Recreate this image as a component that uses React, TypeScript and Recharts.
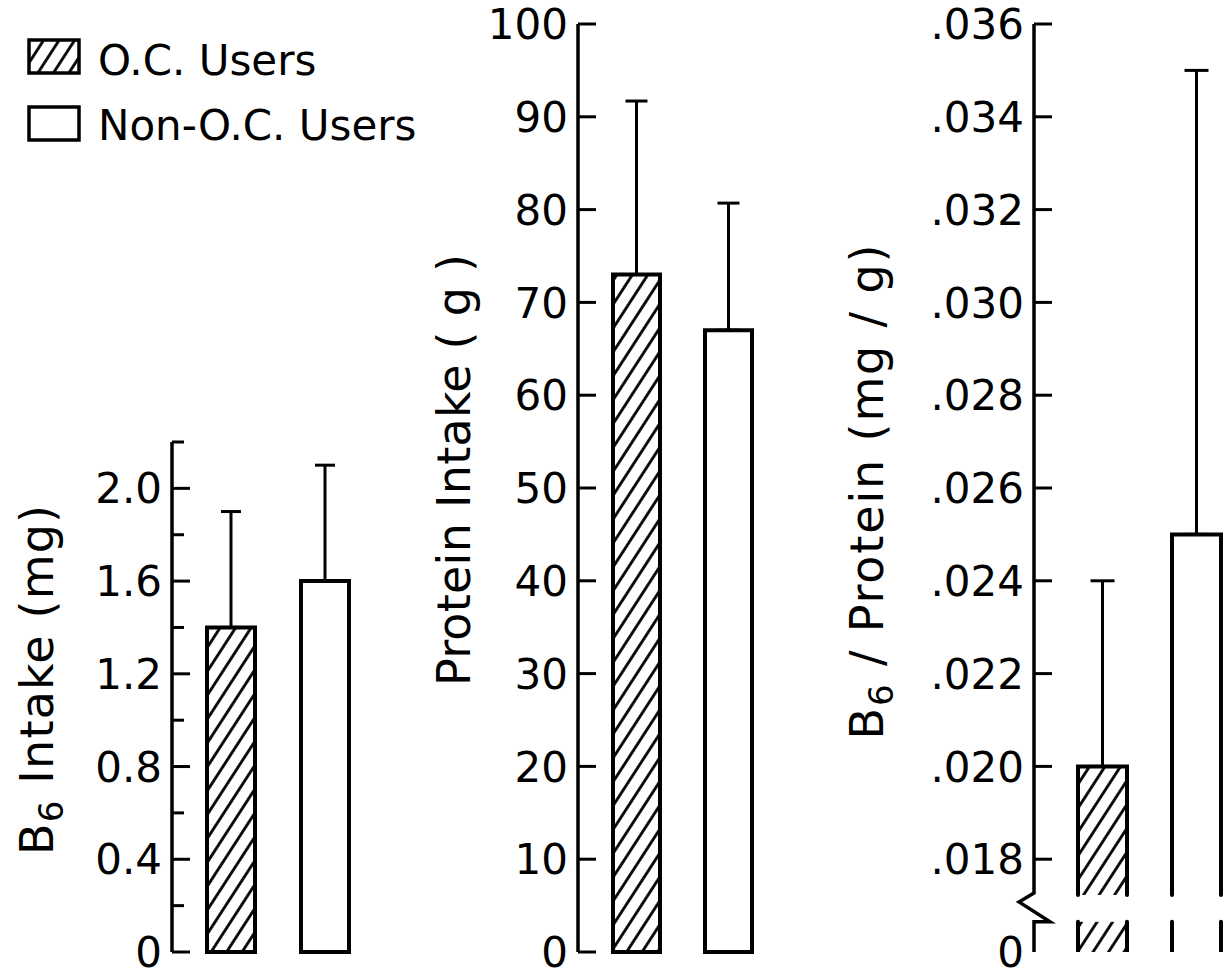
import React from 'react';
import { BarChart, Bar, XAxis, YAxis, ErrorBar, Legend } from 'recharts';

const groups = ['O.C. Users', 'Non-O.C. Users'];

const b6Mean = [1.4, 1.6];
const b6Sd = [0.5, 0.5];
const proteinMean = [73, 67];
const proteinSd = [18.7, 13.7];
const ratioMean = [0.02, 0.025];
const ratioSd = [0.004, 0.01];

const b6Ticks = [0, 0.2, 0.4, 0.6, 0.8, 1.0, 1.2, 1.4, 1.6, 1.8, 2.0, 2.2];
const proteinTicks = [0, 10, 20, 30, 40, 50, 60, 70, 80, 90, 100];
const ratioTicks = [0.016, 0.018, 0.02, 0.022, 0.024, 0.026, 0.028, 0.03, 0.032, 0.034, 0.036];
const ratioBreak = [0.01665, 0.01723];

const b6Data = [{ name: 'B6', oc: b6Mean[0], non: b6Mean[1], ocErr: [0, b6Sd[0]], nonErr: [0, b6Sd[1]] }];
const proteinData = [{ name: 'Protein', oc: proteinMean[0], non: proteinMean[1], ocErr: [0, proteinSd[0]], nonErr: [0, proteinSd[1]] }];
const ratioData = [{ name: 'Ratio', oc: ratioMean[0], non: ratioMean[1], ocErr: [0, ratioSd[0]], nonErr: [0, ratioSd[1]] }];

const FONT = 'DejaVu Sans';
const TICK_FS = 42;
const TITLE_FS = 46;

const Hatch = ({ id }: { id: string }) => (
  <defs>
    <pattern id={id} patternUnits="userSpaceOnUse" width={13} height={13} patternTransform="rotate(33)">
      <rect x={0} y={0} width={13} height={13} fill="#fff" />
      <line x1={6.5} y1={-1} x2={6.5} y2={14} stroke="#000" strokeWidth={2.8} />
    </pattern>
  </defs>
);

const tickText = (x: number, y: number, label: string) => (
  <text x={x - 10} y={y} dy="0.36em" textAnchor="end" fontFamily={FONT} fontSize={TICK_FS} fill="#000">
    {label}
  </text>
);

const B6Tick = (props: any) => {
  const { x, y, payload } = props;
  const v = payload.value;
  const idx = Math.round(v / 0.2);
  const major = idx % 2 === 0;
  const label = v === 0 ? '0' : major ? v.toFixed(1) : '';
  return (
    <g>
      <line x1={x} x2={x + (major ? 18 : 12)} y1={y} y2={y} stroke="#000" strokeWidth={3} />
      {label ? tickText(x, y, label) : null}
    </g>
  );
};

const ProteinTick = (props: any) => {
  const { x, y, payload } = props;
  return (
    <g>
      <line x1={x} x2={x + 18} y1={y} y2={y} stroke="#000" strokeWidth={3} />
      {tickText(x, y, String(payload.value))}
    </g>
  );
};

const RatioTick = (props: any) => {
  const { x, y, payload } = props;
  const v = payload.value;
  const isZero = v === ratioTicks[0];
  const label = isZero ? '0' : '.' + String(Math.round(v * 1000)).padStart(3, '0');
  return (
    <g>
      {isZero ? null : <line x1={x} x2={x + 18} y1={y} y2={y} stroke="#000" strokeWidth={3} />}
      {tickText(x, y, label)}
    </g>
  );
};

const titleText = (cx: number, cy: number, len: number, parts: React.ReactNode) => (
  <text
    x={cx}
    y={cy}
    transform={`rotate(-90 ${cx} ${cy})`}
    textAnchor="middle"
    fontFamily={FONT}
    fontSize={TITLE_FS}
    fill="#000"
    textLength={len}
    lengthAdjust="spacing"
  >
    {parts}
  </text>
);

const b6Title = (props: any) => {
  const vb = props.viewBox;
  const ax = vb.x + vb.width;
  const cx = ax - 119;
  const cy = vb.y + vb.height / 2 - 17;
  return titleText(
    cx,
    cy,
    350,
    <>
      <tspan>B</tspan>
      <tspan fontSize={34} dy={10}>6</tspan>
      <tspan dy={-10}> Intake (mg)</tspan>
    </>
  );
};

const proteinTitle = (props: any) => {
  const vb = props.viewBox;
  const ax = vb.x + vb.width;
  const cx = ax - 108;
  const cy = vb.y + vb.height / 2 - 18;
  return titleText(cx, cy, 432, <tspan>Protein Intake ( g )</tspan>);
};

const ratioTitleAndAxis = (props: any) => {
  const vb = props.viewBox;
  const ax = vb.x + vb.width;
  const top = vb.y;
  const base = vb.y + vb.height;
  const lo = ratioTicks[0];
  const hi = ratioTicks[ratioTicks.length - 1];
  const py = (v: number) => base - ((v - lo) / (hi - lo)) * vb.height;
  const gTop = py(ratioBreak[1]);
  const gBot = py(ratioBreak[0]);
  const cx = ax - 151;
  const cy = vb.y + vb.height / 2 + 4;
  return (
    <g>
      <path
        d={`M${ax},${top} L${ax},${gTop - 2} L${ax - 15},${gTop + 7} L${ax + 16},${gBot} L${ax},${gBot} L${ax},${base}`}
        fill="none"
        stroke="#000"
        strokeWidth={3.5}
        strokeLinejoin="miter"
      />
      {titleText(
        cx,
        cy,
        495,
        <>
          <tspan>B</tspan>
          <tspan fontSize={34} dy={10}>6</tspan>
          <tspan dy={-10}> / Protein (mg / g)</tspan>
        </>
      )}
    </g>
  );
};

const makeBrokenShape = (key: string, fill: string) => (props: any) => {
  const { x, y, width, height, payload } = props;
  const v = payload[key];
  const lo = ratioTicks[0];
  const k = height / (v - lo);
  const base = y + height;
  const gTop = base - (ratioBreak[1] - lo) * k;
  const gBot = base - (ratioBreak[0] - lo) * k;
  return (
    <g>
      <rect x={x} y={y} width={width} height={gTop - y} fill={fill} />
      <rect x={x} y={gBot} width={width} height={base - gBot} fill={fill} />
      <path
        d={`M${x},${gTop} L${x},${y} L${x + width},${y} L${x + width},${gTop}`}
        fill="none"
        stroke="#000"
        strokeWidth={4}
        strokeLinecap="round"
      />
      <path
        d={`M${x},${gBot} L${x},${base} M${x + width},${gBot} L${x + width},${base}`}
        fill="none"
        stroke="#000"
        strokeWidth={4}
        strokeLinecap="round"
      />
    </g>
  );
};

const LegendBox = () => (
  <svg width={430} height={160}>
    <Hatch id="hatchL" />
    <rect x={29} y={40} width={50} height={33} fill="url(#hatchL)" stroke="#000" strokeWidth={3.5} />
    <text x={98} y={60} dy="0.36em" fontFamily={FONT} fontSize={42} fill="#000">{groups[0]}</text>
    <rect x={29} y={107} width={50} height={33} fill="#fff" stroke="#000" strokeWidth={3.5} />
    <text x={98} y={125} dy="0.36em" fontFamily={FONT} fontSize={42} fill="#000">{groups[1]}</text>
  </svg>
);

const axisLineStyle = { stroke: '#000', strokeWidth: 3.5 };

export default function App() {
  return (
    <div style={{ position: 'absolute', left: 0, top: 0, width: 1232, height: 980, background: '#fff', overflow: 'hidden' }}>
      {/* Panel 1: B6 intake */}
      <div style={{ position: 'absolute', left: 0, top: 0 }}>
        <BarChart width={410} height={980} data={b6Data} margin={{ top: 442, right: 23, bottom: 28, left: 0 }} barGap={46}>
          <Hatch id="hatch1" />
          <XAxis dataKey="name" type="category" height={0} tick={false} tickLine={false} axisLine={axisLineStyle} padding={{ left: 0, right: 4 }} />
          <YAxis
            type="number"
            width={172}
            domain={[b6Ticks[0], b6Ticks[b6Ticks.length - 1]]}
            ticks={b6Ticks}
            interval={0}
            tickSize={0}
            tickMargin={0}
            tickLine={false}
            axisLine={axisLineStyle}
            tick={B6Tick}
            label={b6Title}
          />
          <Legend
            layout="horizontal"
            verticalAlign="middle"
            align="center"
            wrapperStyle={{ position: 'absolute', left: 0, top: 0, width: 430, height: 160 }}
            content={() => <LegendBox />}
          />
          <Bar dataKey="oc" name={groups[0]} barSize={48} fill="url(#hatch1)" stroke="#000" strokeWidth={4} isAnimationActive={false}>
            <ErrorBar dataKey="ocErr" width={10} stroke="#000" strokeWidth={3} direction="y" isAnimationActive={false} />
          </Bar>
          <Bar dataKey="non" name={groups[1]} barSize={48} fill="#fff" stroke="#000" strokeWidth={4} isAnimationActive={false}>
            <ErrorBar dataKey="nonErr" width={10} stroke="#000" strokeWidth={3} direction="y" isAnimationActive={false} />
          </Bar>
        </BarChart>
      </div>

      {/* Panel 2: Protein intake */}
      <div style={{ position: 'absolute', left: 400, top: 0 }}>
        <BarChart width={420} height={980} data={proteinData} margin={{ top: 24, right: 34, bottom: 28, left: 0 }} barGap={45}>
          <Hatch id="hatch2" />
          <XAxis dataKey="name" type="category" height={0} tick={false} tickLine={false} axisLine={axisLineStyle} />
          <YAxis
            type="number"
            width={178}
            domain={[proteinTicks[0], proteinTicks[proteinTicks.length - 1]]}
            ticks={proteinTicks}
            interval={0}
            tickSize={0}
            tickMargin={0}
            tickLine={false}
            axisLine={axisLineStyle}
            tick={ProteinTick}
            label={proteinTitle}
          />
          <Bar dataKey="oc" name={groups[0]} barSize={47} fill="url(#hatch2)" stroke="#000" strokeWidth={4} isAnimationActive={false}>
            <ErrorBar dataKey="ocErr" width={11} stroke="#000" strokeWidth={3} direction="y" isAnimationActive={false} />
          </Bar>
          <Bar dataKey="non" name={groups[1]} barSize={47} fill="#fff" stroke="#000" strokeWidth={4} isAnimationActive={false}>
            <ErrorBar dataKey="nonErr" width={11} stroke="#000" strokeWidth={3} direction="y" isAnimationActive={false} />
          </Bar>
        </BarChart>
      </div>

      {/* Panel 3: B6 / Protein */}
      <div style={{ position: 'absolute', left: 820, top: 0 }}>
        <BarChart width={412} height={980} data={ratioData} margin={{ top: 24, right: 0, bottom: 28, left: 0 }} barGap={45}>
          <Hatch id="hatch3" />
          <XAxis dataKey="name" type="category" height={0} tick={false} tickLine={false} axisLine={axisLineStyle} padding={{ left: 32, right: 0 }} />
          <YAxis
            type="number"
            width={214}
            domain={[ratioTicks[0], ratioTicks[ratioTicks.length - 1]]}
            allowDataOverflow={true}
            ticks={ratioTicks}
            interval={0}
            tickSize={0}
            tickMargin={0}
            tickLine={false}
            axisLine={false}
            tick={RatioTick}
            label={ratioTitleAndAxis}
          />
          <Bar dataKey="oc" name={groups[0]} barSize={49} fill="url(#hatch3)" shape={makeBrokenShape('oc', 'url(#hatch3)')} isAnimationActive={false}>
            <ErrorBar dataKey="ocErr" width={12} stroke="#000" strokeWidth={3} direction="y" isAnimationActive={false} />
          </Bar>
          <Bar dataKey="non" name={groups[1]} barSize={49} fill="#fff" shape={makeBrokenShape('non', '#fff')} isAnimationActive={false}>
            <ErrorBar dataKey="nonErr" width={12} stroke="#000" strokeWidth={3} direction="y" isAnimationActive={false} />
          </Bar>
        </BarChart>
      </div>
    </div>
  );
}
